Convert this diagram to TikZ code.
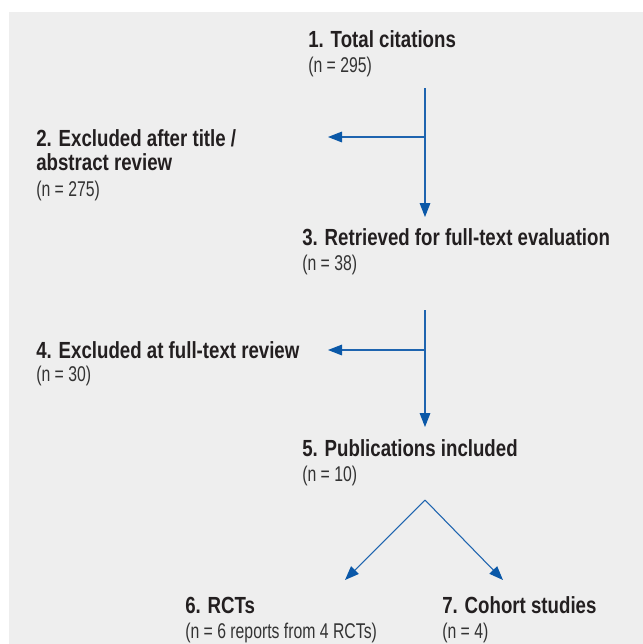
\documentclass[tikz,border=0pt]{standalone}
\usepackage{fontspec}
\usetikzlibrary{arrows.meta}
\newfontfamily\ttlfont[FakeStretch=0.80]{Liberation Sans}
\newfontfamily\cntfont[FakeStretch=0.74]{Liberation Sans}
\definecolor{bgrey}{HTML}{EEEEEE}
\definecolor{flowblue}{RGB}{30,100,175}
\definecolor{tipblue}{RGB}{10,88,168}
\definecolor{txtdark}{HTML}{231F20}
\definecolor{txtreg}{HTML}{333333}
\tikzset{
  ttl/.style={anchor=base west, inner sep=0pt, text=txtdark, font=\ttlfont\bfseries\fontsize{17.5}{20}\selectfont},
  cnt/.style={anchor=base west, inner sep=0pt, text=txtreg, font=\cntfont\fontsize{16}{18}\selectfont},
  flow/.style={draw=flowblue, line width=0.8pt, -{Triangle[length=10.5pt,width=8pt,color=tipblue,fill=tipblue]}}
}
\begin{document}
\begin{tikzpicture}[x=0.75pt,y=-0.75pt]
\useasboundingbox (0,0) rectangle (643,644);
\fill[white] (0,0) rectangle (643,644);
\fill[bgrey] (9,12) rectangle (643,644);

% texts
\node[ttl] (t1) at (308,47) {1. Total citations};
\node[cnt] (c1) at (308,72) {(n = 295)};

\node[ttl] (t2) at (36,146) {2. Excluded after title /};
\node[ttl] (t2b) at (36,170) {abstract review};
\node[cnt] (c2) at (36,196) {(n = 275)};

\node[ttl] (t3) at (302,245) {3. Retrieved for full-text evaluation};
\node[cnt] (c3) at (302,270) {(n = 38)};

\node[ttl] (t4) at (36,358) {4. Excluded at full-text review};
\node[cnt] (c4) at (36,381) {(n = 30)};

\node[ttl] (t5) at (302,456) {5. Publications included};
\node[cnt] (c5) at (302,481) {(n = 10)};

\node[ttl] (t6) at (185,613) {6. RCTs};
\node[cnt] (c6) at (185,638) {(n = 6 reports from 4 RCTs)};

\node[ttl] (t7) at (442,613) {7. Cohort studies};
\node[cnt] (c7) at (442,638) {(n = 4)};

% junction coordinates
\coordinate (s1) at (425,88);
\coordinate (j1) at (425,137);
\coordinate (e2) at (328,137);
\coordinate (e3) at (425,217);
\coordinate (s2) at (425,310);
\coordinate (j2) at (425,350);
\coordinate (e4) at (328,350);
\coordinate (e5) at (425,427);
\coordinate (apex) at (425,500);
\coordinate (e6) at (345,580);
\coordinate (e7) at (503,580);

% connectors
\draw[flow] (s1) -- (e3);
\draw[flow] (j1) -- (e2);
\draw[flow] (s2) -- (e5);
\draw[flow] (j2) -- (e4);
\draw[flow] (apex) -- (e6);
\draw[flow] (apex) -- (e7);
\end{tikzpicture}
\end{document}
